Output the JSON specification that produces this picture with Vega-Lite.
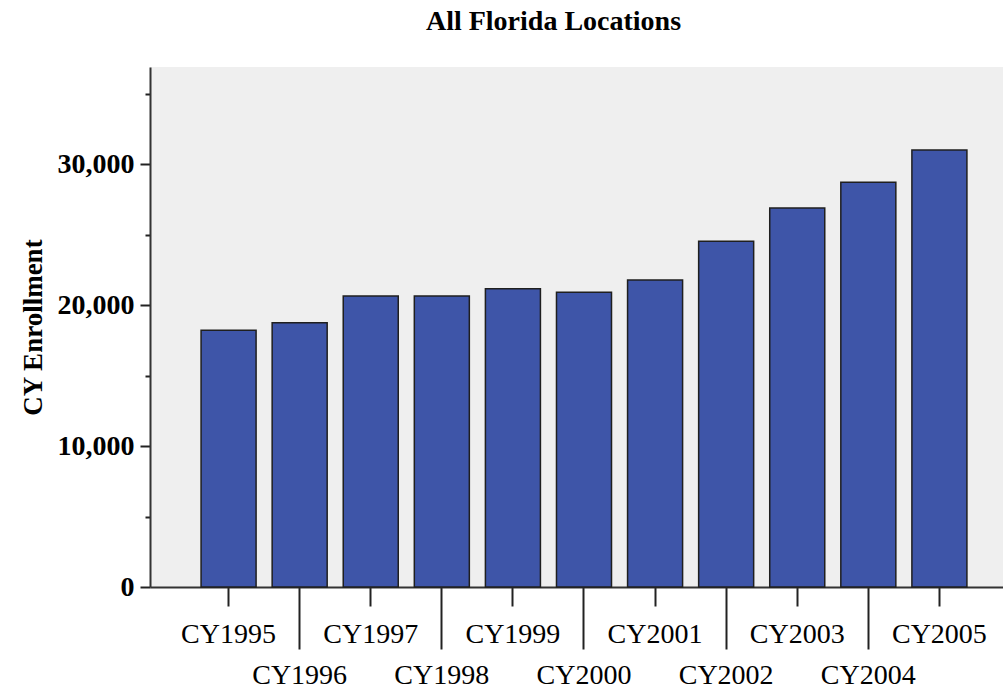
{
  "$schema": "https://vega.github.io/schema/vega-lite/v6.json",
  "autosize": {"type": "none"},
  "padding": {"left": 150, "top": 67, "right": 0, "bottom": 104},
  "width": 853,
  "height": 520,
  "background": "white",
  "title": {
    "text": "All Florida Locations",
    "font": "Liberation Serif",
    "fontSize": 28,
    "fontWeight": "bold",
    "color": "#000000",
    "anchor": "middle",
    "dx": -23,
    "offset": 31
  },
  "config": {
    "view": {"fill": "#efefef", "stroke": null}
  },
  "data": {
    "values": [
      {"year": "CY1995", "enrollment": 18210},
      {"year": "CY1996", "enrollment": 18750},
      {"year": "CY1997", "enrollment": 20640},
      {"year": "CY1998", "enrollment": 20640},
      {"year": "CY1999", "enrollment": 21160},
      {"year": "CY2000", "enrollment": 20900},
      {"year": "CY2001", "enrollment": 21770},
      {"year": "CY2002", "enrollment": 24520},
      {"year": "CY2003", "enrollment": 26880},
      {"year": "CY2004", "enrollment": 28700},
      {"year": "CY2005", "enrollment": 30990}
    ]
  },
  "mark": {"type": "bar", "fill": "#3e55a8", "stroke": "#1f1f1f", "strokeWidth": 1.5},
  "encoding": {
    "x": {
      "field": "year",
      "type": "nominal",
      "sort": null,
      "scale": {"paddingInner": 0.226, "paddingOuter": 0.613, "align": 0.586},
      "axis": {
        "title": null,
        "labelAngle": 0,
        "labelFont": "Liberation Serif",
        "labelFontSize": 28,
        "labelColor": "#000000",
        "labelBaseline": "alphabetic",
        "domainColor": "#333333",
        "domainWidth": 2,
        "tickColor": "#222222",
        "tickWidth": 2,
        "tickSize": {
          "condition": {"test": "indexof(['CY1996','CY1998','CY2000','CY2002','CY2004'], datum.value) >= 0", "value": 62},
          "value": 19
        },
        "labelPadding": {
          "condition": {"test": "indexof(['CY1996','CY1998','CY2000','CY2002','CY2004'], datum.value) >= 0", "value": 34},
          "value": 36
        }
      }
    },
    "y": {
      "field": "enrollment",
      "type": "quantitative",
      "title": "CY Enrollment",
      "scale": {"domain": [0, 36880], "nice": false},
      "axis": {
        "values": [0, 5000, 10000, 15000, 20000, 25000, 30000, 35000],
        "labelExpr": "datum.value % 10000 === 0 ? format(datum.value, ',') : ''",
        "grid": false,
        "labelFont": "Liberation Serif",
        "labelFontSize": 28,
        "labelFontWeight": "bold",
        "labelColor": "#000000",
        "labelPadding": 6,
        "domainColor": "#333333",
        "domainWidth": 2,
        "tickColor": "#222222",
        "tickWidth": 2,
        "tickSize": {
          "condition": {"test": "datum.value % 10000 === 0", "value": 10},
          "value": 5
        },
        "titleFont": "Liberation Serif",
        "titleFontSize": 27,
        "titleFontWeight": "bold",
        "titleColor": "#000000",
        "titlePadding": 10
      }
    }
  }
}
